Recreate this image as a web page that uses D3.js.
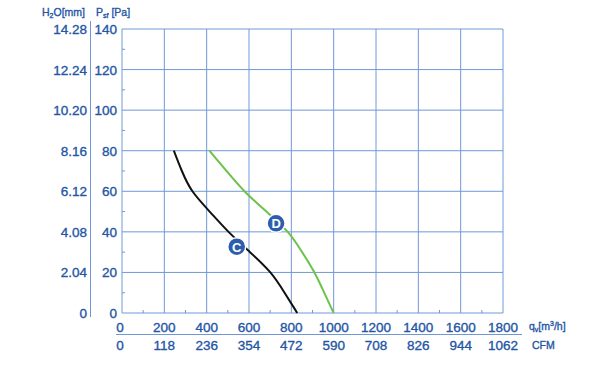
<!DOCTYPE html>
<html>
<head>
<meta charset="utf-8">
<script src="https://cdn.jsdelivr.net/npm/d3@7"></script>
<style>
  body { margin: 0; background: #fff; }
  text { font-family: "Liberation Sans", Arial, sans-serif; }
  .lbl { stroke: #2456a4; stroke-width: 0.35px; }
</style>
</head>
<body>
<script>
// chart values
const flowTicks = [0, 200, 400, 600, 800, 1000, 1200, 1400, 1600, 1800]
const cfmTicks = ['0', '118', '236', '354', '472', '590', '708', '826', '944', '1062']
const paTicks = [0, 20, 40, 60, 80, 100, 120, 140]
const mmTicks = ['0', '2.04', '4.08', '6.12', '8.16', '10.20', '12.24', '14.28']

// curve C (black) and D (green): [flow m3/h, pressure Pa]
const curveC = [[245, 80], [282, 70], [325, 60], [415, 50], [500, 40], [605, 30], [708, 20], [768, 10], [828, 0]]
const curveD = [[413, 80], [494, 70], [574, 60], [682, 50], [791, 40], [851, 30], [912, 20], [955, 10], [1000, 0]]
const labels = [{name: 'C', q: 542, p: 32.7}, {name: 'D', q: 728, p: 44.2}]

const width = 590
const height = 371
const blue = '#2456a4'
const grid = '#7098d8'

const x = d3.scaleLinear().domain([0, 1800]).range([122, 503])
const y = d3.scaleLinear().domain([0, 140]).range([313, 29])

const svg = d3.select('body').append('svg')
    .attr('width', width)
    .attr('height', height)

// grid
svg.append('g')
  .selectAll('line')
  .data(flowTicks)
  .join('line')
    .attr('x1', d => x(d)).attr('x2', d => x(d))
    .attr('y1', y(0)).attr('y2', y(140))
    .attr('stroke', grid).attr('stroke-width', 1)

svg.append('g')
  .selectAll('line')
  .data(paTicks)
  .join('line')
    .attr('x1', x(0)).attr('x2', x(1800))
    .attr('y1', d => y(d)).attr('y2', d => y(d))
    .attr('stroke', grid).attr('stroke-width', 1)

// minor ticks
svg.append('g')
  .selectAll('line')
  .data(d3.range(100, 1800, 200))
  .join('line')
    .attr('x1', d => x(d)).attr('x2', d => x(d))
    .attr('y1', y(0)).attr('y2', y(0) - 3)
    .attr('stroke', grid)

svg.append('g')
  .selectAll('line')
  .data(d3.range(10, 140, 20))
  .join('line')
    .attr('x1', x(0)).attr('x2', x(0) + 3)
    .attr('y1', d => y(d)).attr('y2', d => y(d))
    .attr('stroke', grid)

// left labels
svg.append('g')
  .selectAll('text')
  .data(paTicks)
  .join('text')
    .attr('class', 'lbl')
    .attr('x', 117).attr('y', d => y(d) + 5)
    .attr('text-anchor', 'end')
    .attr('font-size', 13.5).attr('fill', blue)
    .text(d => d)

svg.append('g')
  .selectAll('text')
  .data(mmTicks)
  .join('text')
    .attr('class', 'lbl')
    .attr('x', 87).attr('y', (d, i) => y(paTicks[i]) + 5)
    .attr('text-anchor', 'end')
    .attr('font-size', 13.5).attr('fill', blue)
    .text(d => d)

svg.append('line')
  .attr('x1', 90.5).attr('x2', 90.5)
  .attr('y1', 21).attr('y2', 317)
  .attr('stroke', grid)

// header
let h = svg.append('text').attr('class', 'lbl').attr('x', 42).attr('y', 16)
  .attr('font-size', 10.5).attr('fill', blue)
h.append('tspan').text('H')
h.append('tspan').attr('font-size', 7).attr('dy', 2).text('2')
h.append('tspan').attr('dy', -2).text('O[mm]')

let p = svg.append('text').attr('class', 'lbl').attr('x', 96).attr('y', 16)
  .attr('font-size', 10.5).attr('fill', blue)
p.append('tspan').text('P')
p.append('tspan').attr('font-size', 7).attr('dy', 2).text('sf')
p.append('tspan').attr('dy', -2).text(' [Pa]')

// bottom labels
svg.append('g')
  .selectAll('text')
  .data(flowTicks)
  .join('text')
    .attr('class', 'lbl')
    .attr('x', d => x(d) - (d === 0 ? 2 : 0)).attr('y', 332)
    .attr('text-anchor', 'middle')
    .attr('font-size', 13.5).attr('fill', blue)
    .text(d => d)

svg.append('g')
  .selectAll('text')
  .data(cfmTicks)
  .join('text')
    .attr('class', 'lbl')
    .attr('x', (d, i) => x(flowTicks[i]) - (i === 0 ? 2 : 0)).attr('y', 350)
    .attr('text-anchor', 'middle')
    .attr('font-size', 13.5).attr('fill', blue)
    .text(d => d)

svg.append('line')
  .attr('x1', 116).attr('x2', 522)
  .attr('y1', 334.5).attr('y2', 334.5)
  .attr('stroke', grid)

let q = svg.append('text').attr('class', 'lbl').attr('x', 529).attr('y', 330)
  .attr('font-size', 10.5).attr('fill', blue)
q.append('tspan').text('q')
q.append('tspan').attr('font-size', 7).attr('dy', 2).text('v')
q.append('tspan').attr('dy', -2).text('[m')
q.append('tspan').attr('font-size', 7).attr('dy', -4).text('3')
q.append('tspan').attr('dy', 4).text('/h]')

svg.append('text').attr('class', 'lbl').attr('x', 532).attr('y', 349)
  .attr('font-size', 10.5).attr('fill', blue)
  .text('CFM')

// curves
const line = d3.line()
  .x(d => x(d[0]))
  .y(d => y(d[1]))
  .curve(d3.curveBasis)

svg.append('path').datum(curveC)
  .attr('d', line).attr('fill', 'none')
  .attr('stroke', '#111').attr('stroke-width', 2)

svg.append('path').datum(curveD)
  .attr('d', line).attr('fill', 'none')
  .attr('stroke', '#6cc24a').attr('stroke-width', 2)

// curve labels
const lab = svg.append('g')
  .selectAll('g')
  .data(labels)
  .join('g')
    .attr('transform', d => `translate(${x(d.q)},${y(d.p)})`)

lab.append('circle')
  .attr('r', 9)
  .attr('fill', '#2d5eae')
  .attr('stroke', '#fff').attr('stroke-width', 1.5)

lab.append('text')
  .attr('y', 5)
  .attr('text-anchor', 'middle')
  .attr('font-size', 13).attr('font-weight', 'bold')
  .attr('fill', '#fff')
  .text(d => d.name)
</script>
</body>
</html>
